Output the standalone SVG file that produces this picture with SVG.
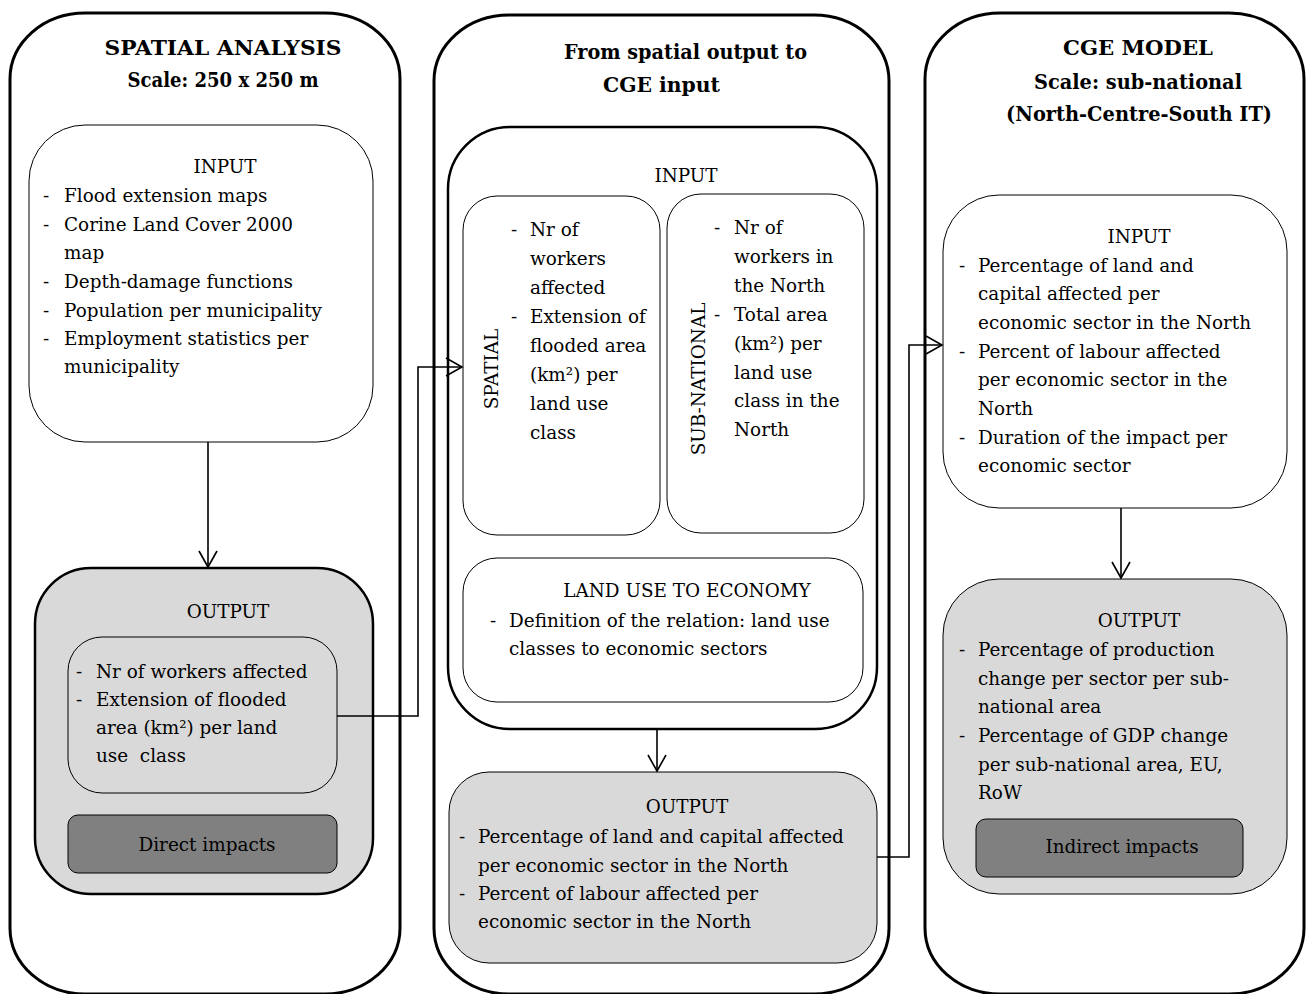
<svg xmlns="http://www.w3.org/2000/svg" width="1313" height="994" viewBox="0 0 1313 994">
<style>
text{font-family:"DejaVu Serif","Liberation Serif",serif;font-size:18.4px;fill:#000}
.t{font-weight:bold;font-size:21px}
.c{text-anchor:middle}
.panel{fill:#fff;stroke:#000;stroke-width:3}
.thin{fill:#fff;stroke:#000;stroke-width:1}
.grey{fill:#d9d9d9;stroke:#000;stroke-width:1}
.greyb{fill:#d9d9d9;stroke:#000;stroke-width:2.5}
.dark{fill:#808080;stroke:#000;stroke-width:1}
.conn{fill:none;stroke:#000;stroke-width:1.6}
</style>
<defs>
<marker id="ah" markerUnits="userSpaceOnUse" markerWidth="24" markerHeight="24" viewBox="-20 -12 24 24" refX="0" refY="0" orient="auto">
<path d="M-16,-9 L0,0 L-16,9" fill="none" stroke="#000" stroke-width="1.6"/>
</marker>
</defs>
<rect width="1313" height="994" fill="#fff"/>

<g id="panel-spatial">
<rect class="panel" x="10" y="13" width="390" height="981" rx="75" ry="66"/>
<text class="t c" x="223" y="55" textLength="237" lengthAdjust="spacingAndGlyphs">SPATIAL ANALYSIS</text>
<text class="t c" x="223" y="87" textLength="191" lengthAdjust="spacingAndGlyphs">Scale: 250 x 250 m</text>
</g>
<g id="spatial-input">
<rect class="thin" x="29" y="125" width="344" height="317" rx="56" ry="56"/>
<text class="c" x="225" y="173">INPUT</text>
<text x="43" y="202">-</text><text x="64" y="202">Flood extension maps</text>
<text x="43" y="231">-</text><text x="64" y="231">Corine Land Cover 2000</text>
<text x="64" y="259">map</text>
<text x="43" y="288">-</text><text x="64" y="288">Depth-damage functions</text>
<text x="43" y="317">-</text><text x="64" y="317">Population per municipality</text>
<text x="43" y="345">-</text><text x="64" y="345">Employment statistics per</text>
<text x="64" y="373">municipality</text>
</g>
<g id="spatial-output">
<rect class="greyb" x="35" y="568" width="338" height="326" rx="56" ry="56"/>
<text class="c" x="228" y="618">OUTPUT</text>
</g>
<g id="spatial-output-list">
<rect class="grey" x="68" y="637" width="269" height="156" rx="34" ry="34"/>
<text x="76" y="678">-</text><text x="96" y="678">Nr of workers affected</text>
<text x="76" y="706">-</text><text x="96" y="706">Extension of flooded</text>
<text x="96" y="734">area (km²) per land</text>
<text x="96" y="762" xml:space="preserve">use  class</text>
</g>
<g id="direct-impacts">
<rect class="dark" x="68" y="815" width="269" height="58" rx="10" ry="10"/>
<text class="c" x="207" y="851">Direct impacts</text>
</g>

<g id="panel-bridge">
<rect class="panel" x="434" y="15" width="455" height="979" rx="75" ry="66"/>
<text class="t" x="564" y="59" textLength="243" lengthAdjust="spacingAndGlyphs">From spatial output to</text>
<text class="t" x="603" y="92" textLength="117" lengthAdjust="spacingAndGlyphs">CGE input</text>
</g>
<g id="bridge-input">
<rect fill="#fff" stroke="#000" stroke-width="2.5" x="448" y="127" width="429" height="602" rx="62" ry="62"/>
<text class="c" x="686" y="182">INPUT</text>
</g>
<g id="bridge-spatial">
<rect class="thin" x="463" y="196" width="197" height="339" rx="34" ry="34"/>
<text class="c" transform="translate(498,369) rotate(-90)" x="0" y="0">SPATIAL</text>
<text x="511" y="236">-</text><text x="530" y="236">Nr of</text>
<text x="530" y="265">workers</text>
<text x="530" y="294">affected</text>
<text x="511" y="323">-</text><text x="530" y="323">Extension of</text>
<text x="530" y="352">flooded area</text>
<text x="530" y="381">(km²) per</text>
<text x="530" y="410">land use</text>
<text x="530" y="439">class</text>
</g>
<g id="bridge-subnational">
<rect class="thin" x="667" y="194" width="197" height="339" rx="34" ry="34"/>
<text class="c" transform="translate(705,379) rotate(-90)" x="0" y="0">SUB-NATIONAL</text>
<text x="714" y="234">-</text><text x="734" y="234">Nr of</text>
<text x="734" y="263">workers in</text>
<text x="734" y="292">the North</text>
<text x="714" y="321">-</text><text x="734" y="321">Total area</text>
<text x="734" y="350">(km²) per</text>
<text x="734" y="379">land use</text>
<text x="734" y="407">class in the</text>
<text x="734" y="436">North</text>
</g>
<g id="bridge-landuse">
<rect class="thin" x="463" y="558" width="400" height="144" rx="34" ry="34"/>
<text class="c" x="687" y="597">LAND USE TO ECONOMY</text>
<text x="490" y="627">-</text><text x="509" y="627">Definition of the relation: land use</text>
<text x="509" y="655">classes to economic sectors</text>
</g>
<g id="bridge-output">
<rect class="grey" x="449" y="772" width="428" height="191" rx="40" ry="40"/>
<text class="c" x="687" y="813">OUTPUT</text>
<text x="459" y="843">-</text><text x="478" y="843">Percentage of land and capital affected</text>
<text x="478" y="872">per economic sector in the North</text>
<text x="459" y="900">-</text><text x="478" y="900">Percent of labour affected per</text>
<text x="478" y="928">economic sector in the North</text>
</g>

<g id="panel-cge">
<rect class="panel" x="925" y="13" width="379" height="981" rx="75" ry="66"/>
<text class="t c" x="1138" y="55" textLength="150" lengthAdjust="spacingAndGlyphs">CGE MODEL</text>
<text class="t c" x="1138" y="89" textLength="208" lengthAdjust="spacingAndGlyphs">Scale: sub-national</text>
<text class="t c" x="1139" y="121" textLength="266" lengthAdjust="spacingAndGlyphs">(North-Centre-South IT)</text>
</g>
<g id="cge-input">
<rect class="thin" x="943" y="195" width="344" height="313" rx="56" ry="56"/>
<text class="c" x="1139" y="243">INPUT</text>
<text x="959" y="272">-</text><text x="978" y="272">Percentage of land and</text>
<text x="978" y="300">capital affected per</text>
<text x="978" y="329">economic sector in the North</text>
<text x="959" y="358">-</text><text x="978" y="358">Percent of labour affected</text>
<text x="978" y="386">per economic sector in the</text>
<text x="978" y="415">North</text>
<text x="959" y="444">-</text><text x="978" y="444">Duration of the impact per</text>
<text x="978" y="472">economic sector</text>
</g>
<g id="cge-output">
<rect class="grey" x="943" y="579" width="344" height="315" rx="56" ry="56"/>
<text class="c" x="1139" y="627">OUTPUT</text>
<text x="959" y="656">-</text><text x="978" y="656">Percentage of production</text>
<text x="978" y="685">change per sector per sub-</text>
<text x="978" y="713">national area</text>
<text x="959" y="742">-</text><text x="978" y="742">Percentage of GDP change</text>
<text x="978" y="771">per sub-national area, EU,</text>
<text x="978" y="799">RoW</text>
</g>
<g id="indirect-impacts">
<rect class="dark" x="976" y="819" width="267" height="58" rx="10" ry="10"/>
<text class="c" x="1122" y="853">Indirect impacts</text>
</g>

<g id="connectors">
<path class="conn" d="M208,442 V567" marker-end="url(#ah)"/>
<path class="conn" d="M337,716 H418 V367 H462" marker-end="url(#ah)"/>
<path class="conn" d="M657,729 V771" marker-end="url(#ah)"/>
<path class="conn" d="M877,857 H909 V345 H942" marker-end="url(#ah)"/>
<path class="conn" d="M1121,508 V578" marker-end="url(#ah)"/>
</g>
</svg>
